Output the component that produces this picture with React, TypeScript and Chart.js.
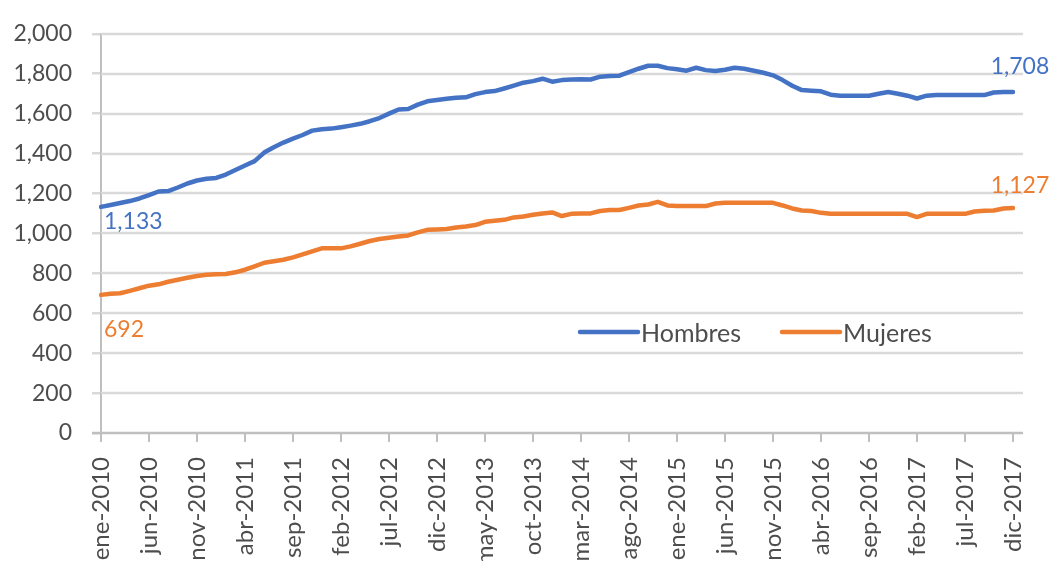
import React, { useEffect, useRef } from 'react';
import { Chart, registerables } from 'chart.js';

Chart.register(...registerables);

const MONTHS = ['ene', 'feb', 'mar', 'abr', 'may', 'jun', 'jul', 'ago', 'sep', 'oct', 'nov', 'dic'];
const YEARS = [2010, 2011, 2012, 2013, 2014, 2015, 2016, 2017];
const categories: string[] = YEARS.flatMap((y) => MONTHS.map((m) => `${m}-${y}`));

const SERIES_NAMES = ['Hombres', 'Mujeres'];
const SERIES_COLORS = ['#4472C4', '#ED7D31'];

const hombres = [
  1133, 1142, 1152, 1162, 1175, 1192, 1210, 1212, 1230, 1250, 1265, 1274,
  1278, 1295, 1318, 1340, 1362, 1405, 1432, 1455, 1475, 1493, 1515, 1522,
  1525, 1532, 1540, 1549, 1562, 1578, 1600, 1621, 1623, 1645, 1662, 1668,
  1675, 1680, 1682, 1698, 1708, 1713, 1726, 1740, 1755, 1763, 1775, 1760,
  1768, 1771, 1772, 1771, 1785, 1788, 1790, 1808, 1825, 1840, 1840, 1828,
  1822, 1815, 1830, 1818, 1814, 1820, 1830, 1825, 1815, 1805, 1792, 1768,
  1740, 1718, 1715, 1712, 1695, 1690, 1690, 1690, 1690, 1700, 1708, 1700,
  1690, 1676, 1690, 1693, 1693, 1693, 1693, 1693, 1693, 1706, 1708, 1708,
];

const mujeres = [
  692, 698, 700, 712, 725, 738, 745, 758, 768, 778, 787, 793,
  795, 797, 805, 818, 835, 853, 860, 868, 880, 895, 910, 925,
  925, 925, 935, 948, 962, 972, 978, 984, 990, 1005, 1018, 1020,
  1022, 1030, 1035, 1042, 1058, 1063, 1068, 1080, 1085, 1093, 1100, 1105,
  1087, 1098, 1100, 1100, 1112, 1117, 1117, 1128, 1140, 1145, 1158, 1140,
  1137, 1137, 1137, 1137, 1150, 1153, 1153, 1153, 1153, 1153, 1153, 1140,
  1125, 1115, 1112, 1103, 1098, 1098, 1098, 1098, 1098, 1098, 1098, 1098,
  1098, 1082, 1098, 1098, 1098, 1098, 1098, 1110, 1113, 1115, 1125, 1127,
];

const Y_MIN = 0;
const Y_MAX = 2000;
const Y_STEP = 200;
const X_TICK_EVERY = 5;

const X_FONT_SIZE = 24;
const Y_FONT_SIZE = 23;
const LABEL_FONT_SIZE = 23;
const LEGEND_FONT_SIZE = 25;
const TEXT_COLOR = '#4d4d4d';
const GRID_COLOR = '#d9d9d9';
const AXIS_COLOR = '#bfbfbf';

const fmt = (v: number) => v.toLocaleString('en-US');

// per-series label offsets (first value label, last value label)
const LABEL_OFFSETS = [
  { firstDx: 3, firstDy: 15, lastDx: 7, lastDy: -26 },
  { firstDx: 3, firstDy: 35, lastDx: 7, lastDy: -22 },
];

const gridPlugin = {
  id: 'excelGrid',
  beforeDatasetsDraw(chart: any) {
    const { ctx, chartArea, scales } = chart;
    const y = scales.y;
    ctx.save();
    y.ticks.forEach((t: any) => {
      const py = Math.round(y.getPixelForValue(t.value));
      ctx.strokeStyle = t.value === 0 ? AXIS_COLOR : GRID_COLOR;
      ctx.lineWidth = 2.5;
      ctx.beginPath();
      ctx.moveTo(t.value === 0 ? chartArea.left - 9 : chartArea.left, py);
      ctx.lineTo(chartArea.right + 10, py);
      ctx.stroke();
    });
    ctx.restore();
  },
};

const labelPlugin = {
  id: 'endLabels',
  afterDatasetsDraw(chart: any) {
    const ctx = chart.ctx;
    ctx.save();
    ctx.font = `${LABEL_FONT_SIZE}px Lato`;
    ctx.textBaseline = 'middle';
    chart.data.datasets.forEach((ds: any, di: number) => {
      const meta = chart.getDatasetMeta(di);
      const n = meta.data.length;
      const first = meta.data[0];
      const last = meta.data[n - 1];
      const off = LABEL_OFFSETS[di];
      ctx.fillStyle = ds.borderColor;
      ctx.textAlign = 'left';
      ctx.fillText(fmt(ds.data[0]), first.x + off.firstDx, first.y + off.firstDy);
      ctx.textAlign = 'center';
      ctx.fillText(fmt(ds.data[n - 1]), last.x + off.lastDx, last.y + off.lastDy);
    });
    ctx.restore();
  },
};

const LEGEND_POS = [
  { x1: 580, x2: 638, y: 332 },
  { x1: 782, x2: 840, y: 332 },
];

const legendPlugin = {
  id: 'insideLegend',
  afterDatasetsDraw(chart: any) {
    const ctx = chart.ctx;
    ctx.save();
    ctx.font = `${LEGEND_FONT_SIZE}px Lato`;
    ctx.textBaseline = 'middle';
    ctx.textAlign = 'left';
    chart.data.datasets.forEach((ds: any, di: number) => {
      const p = LEGEND_POS[di];
      ctx.strokeStyle = ds.borderColor;
      ctx.lineWidth = 4.5;
      ctx.lineCap = 'round';
      ctx.beginPath();
      ctx.moveTo(p.x1, p.y);
      ctx.lineTo(p.x2, p.y);
      ctx.stroke();
      ctx.fillStyle = TEXT_COLOR;
      ctx.fillText(ds.label, p.x2 + 3, p.y + 2);
    });
    ctx.restore();
  },
};

export default function App() {
  const canvasRef = useRef<HTMLCanvasElement | null>(null);

  useEffect(() => {
    if (!canvasRef.current) return;
    const seriesValues = [hombres, mujeres];
    const chart = new Chart(canvasRef.current, {
      type: 'line',
      data: {
        labels: categories,
        datasets: SERIES_NAMES.map((name, i) => ({
          label: name,
          data: seriesValues[i],
          borderColor: SERIES_COLORS[i],
          backgroundColor: SERIES_COLORS[i],
          borderWidth: 4.5,
          pointRadius: 0,
          tension: 0,
          fill: false,
          borderJoinStyle: 'round' as const,
          borderCapStyle: 'round' as const,
        })),
      },
      options: {
        responsive: false,
        maintainAspectRatio: false,
        devicePixelRatio: 1,
        animation: false,
        layout: { padding: { top: 20, right: 38, bottom: 0, left: 0 } },
        plugins: {
          legend: { display: false },
          tooltip: { enabled: false },
        },
        scales: {
          x: {
            type: 'category',
            offset: false,
            afterFit: (scale: any) => {
              scale.height = 128;
              scale.paddingLeft = 0;
              scale.paddingRight = 0;
            },
            grid: {
              display: true,
              drawOnChartArea: false,
              drawTicks: true,
              tickLength: 9,
              color: AXIS_COLOR,
              lineWidth: 2,
            },
            border: { display: false },
            ticks: {
              autoSkip: false,
              maxRotation: 90,
              minRotation: 90,
              padding: 15,
              color: TEXT_COLOR,
              font: { family: 'Lato', size: X_FONT_SIZE },
              callback: (_v: any, idx: number) =>
                idx % X_TICK_EVERY === 0 ? categories[idx] : null,
            },
          },
          y: {
            min: Y_MIN,
            max: Y_MAX,
            afterFit: (scale: any) => {
              scale.width = 101;
            },
            grid: {
              display: true,
              drawOnChartArea: false,
              drawTicks: true,
              tickLength: 9,
              color: GRID_COLOR,
              lineWidth: 2.5,
            },
            border: { display: true, color: AXIS_COLOR, width: 2 },
            ticks: {
              stepSize: Y_STEP,
              padding: 20,
              color: TEXT_COLOR,
              font: { family: 'Lato', size: Y_FONT_SIZE },
              callback: (v: any) => fmt(Number(v)),
            },
          },
        },
      },
      plugins: [gridPlugin, labelPlugin, legendPlugin],
    });
    return () => chart.destroy();
  }, []);

  return (
    <div
      style={{
        position: 'fixed',
        left: 0,
        top: 0,
        width: 1051,
        height: 561,
        background: '#ffffff',
      }}
    >
      <canvas ref={canvasRef} width={1051} height={561} style={{ display: 'block' }} />
    </div>
  );
}
